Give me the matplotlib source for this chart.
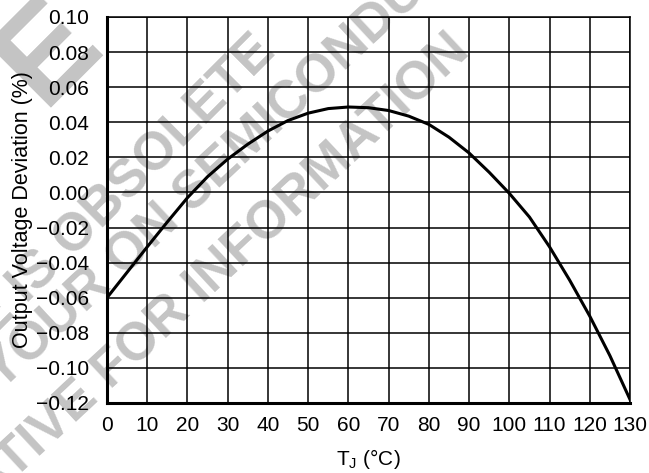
import matplotlib
matplotlib.use('Agg')
import matplotlib.pyplot as plt

# ========== data ==========
temp_c = [0, 5, 10, 15, 20, 25, 30, 35, 40, 45, 50, 55, 60, 65, 70,
          75, 80, 85, 90, 95, 100, 105, 110, 115, 120, 125, 130]
deviation = [-0.0600, -0.0455, -0.0310, -0.0168, -0.0030, 0.0090, 0.0190,
             0.0275, 0.0350, 0.0410, 0.0452, 0.0478, 0.0487, 0.0483,
             0.0467, 0.0435, 0.0388, 0.0315, 0.0225, 0.0115, -0.0005,
             -0.0140, -0.0310, -0.0500, -0.0705, -0.0930, -0.1180]

x_ticks = list(range(0, 131, 10))
y_ticks = [-0.12, -0.10, -0.08, -0.06, -0.04, -0.02, 0.00,
           0.02, 0.04, 0.06, 0.08, 0.10]

# watermark: text, baseline anchor (px from top-left), angle, align, size
watermark = [
    ("E", 42, 108, 45, 'left', 95),
    ("THIS DEVICE IS OBSOLETE", 277, 54, 45, 'right', 38),
    ("CONTACT ", 2, 392, 43, 'right', 38),
    ("YOUR ON SEMICONDUCTOR", 2, 392, 43, 'left', 38),
    ("REPRESENTATIVE FOR INFORMATION", 472, 54, 43, 'right', 38),
]

plt.rcParams['font.family'] = ['Liberation Sans', 'DejaVu Sans']

W, H = 649, 473
fig = plt.figure(figsize=(W / 100, H / 100), dpi=100)
ax = fig.add_axes([107 / W, 1 - 403 / H, (630 - 107) / W, (403 - 17) / H])
ax.set_facecolor('none')

# 水印放在最底层
for txt, px, py, rot, ha, size in watermark:
    fig.text(px / W, 1 - py / H, txt, fontsize=size, fontweight='bold',
             color='#c4c4c4', rotation=rot, rotation_mode='anchor',
             ha=ha, va='baseline', zorder=-5)

ax.plot(temp_c, deviation, color='black', linewidth=2.2, zorder=3)

ax.set_xlim(0, 130)
ax.set_ylim(-0.12, 0.10)
ax.set_xticks(x_ticks)
ax.set_yticks(y_ticks)
ax.set_yticklabels([f"{v:.2f}".replace('-', '\u2212') for v in y_ticks])
ax.grid(True, color='black', linewidth=1.1)
ax.tick_params(length=0, labelsize=15)
ax.tick_params(axis='y', pad=13)
ax.tick_params(axis='x', pad=9)

for side in ['top', 'right']:
    ax.spines[side].set_linewidth(1.1)
for side in ['left', 'bottom']:
    ax.spines[side].set_linewidth(2.2)

ax.set_xlabel('T$_\\mathregular{J}$ (\u00b0C)', fontsize=15, labelpad=9)
ax.set_ylabel('Output Voltage Deviation (%)', fontsize=15.5, labelpad=2)

fig.savefig('out.png', dpi=100)
